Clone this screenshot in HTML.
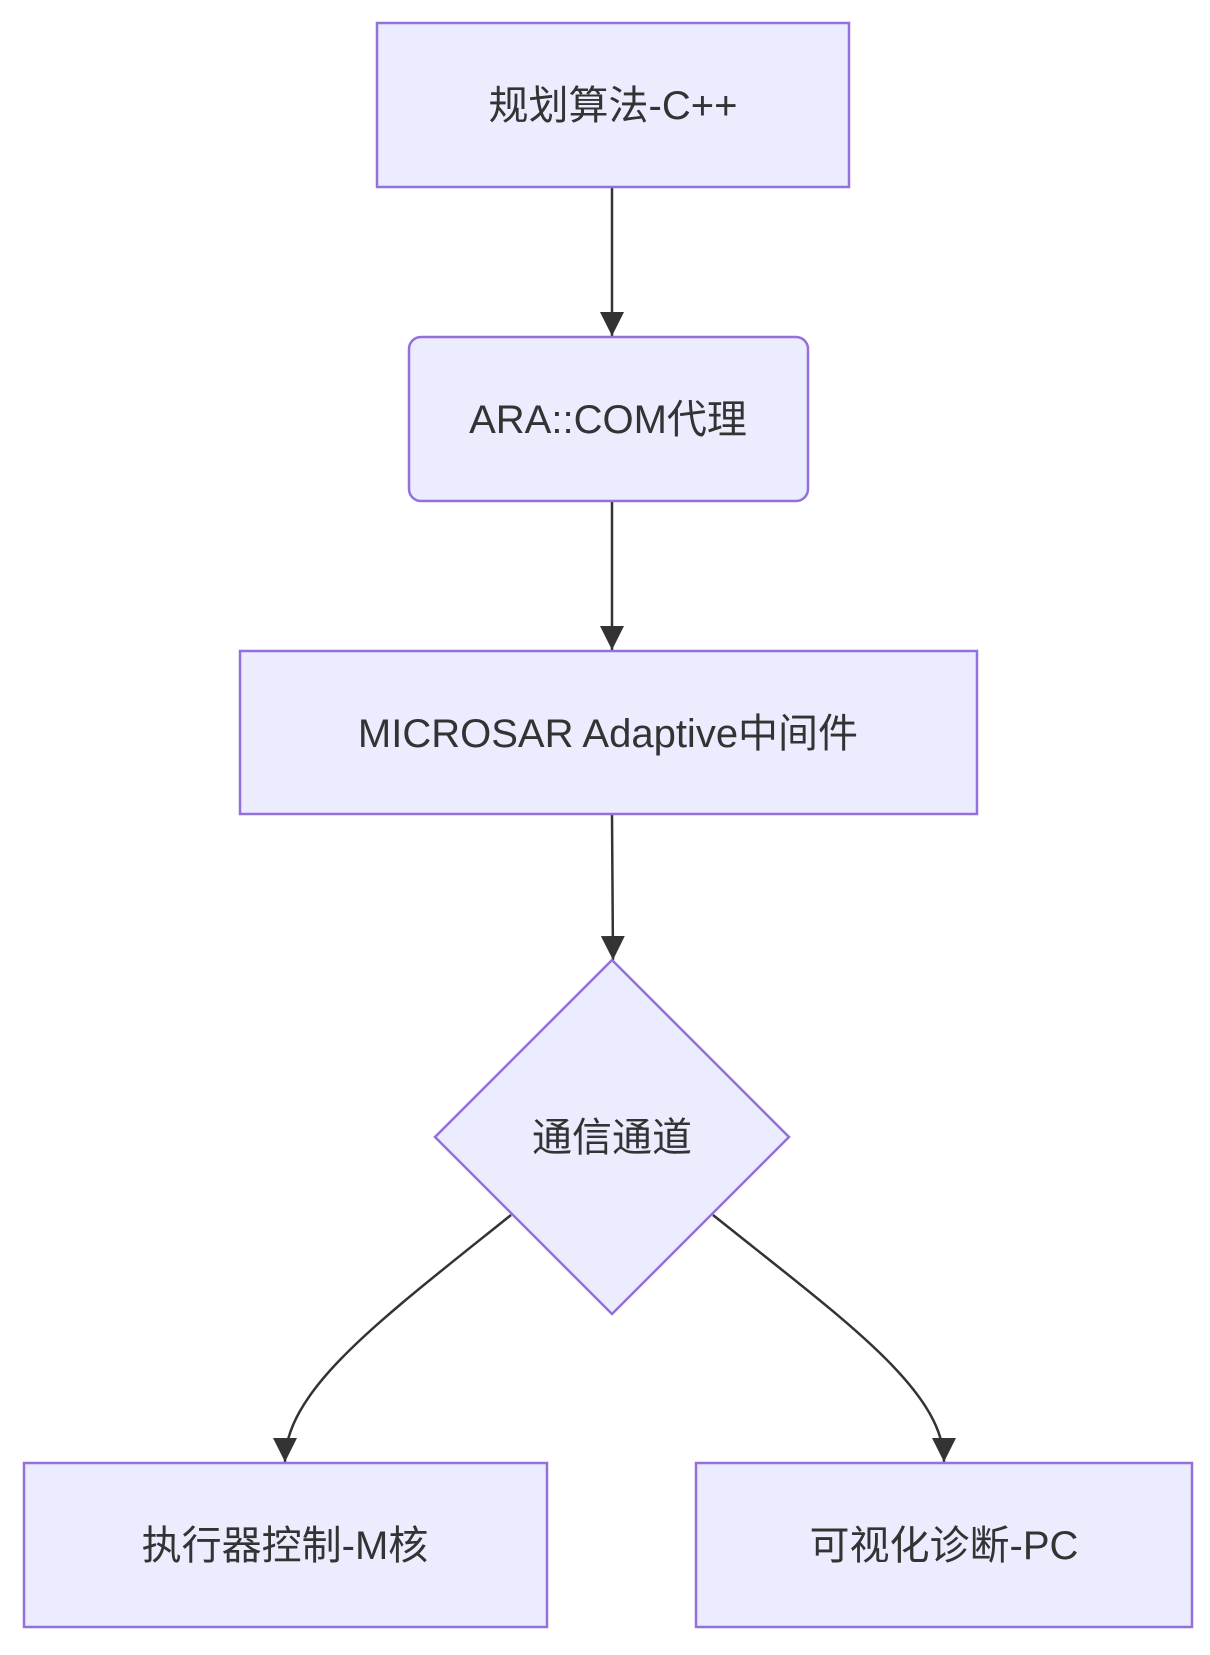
<!DOCTYPE html>
<html><head><meta charset="utf-8"><style>
html,body{margin:0;padding:0;background:#fff;}
svg text{font-family:"Liberation Sans","Noto Sans CJK SC",sans-serif;font-size:40px;fill:#333;}
</style></head><body>
<svg width="1210" height="1650" viewBox="0 0 1210 1650" xmlns="http://www.w3.org/2000/svg">
<defs><marker id="a" viewBox="0 0 12 12" refX="11" refY="6" markerWidth="12" markerHeight="12" markerUnits="userSpaceOnUse" orient="auto"><path d="M0,0 L12,6 L0,12 z" fill="#333"/></marker>
<marker id="b" viewBox="0 0 10 10" refX="10" refY="5" markerWidth="24" markerHeight="24" markerUnits="userSpaceOnUse" orient="auto"><path d="M0,0 L10,5 L0,10 z" fill="#333"/></marker></defs>
<g stroke="#333" stroke-width="2.5" fill="none">
<path d="M612,188 L612,336" marker-end="url(#b)"/>
<path d="M612,502 L612,650" marker-end="url(#b)"/>
<path d="M612,815 L613,960" marker-end="url(#b)"/>
<path d="M511,1215 C380,1320 285,1390 285,1462" marker-end="url(#b)"/>
<path d="M713,1215 C844,1320 944,1390 944,1462" marker-end="url(#b)"/>
</g>
<g fill="#ECECFF" stroke="#9370DB" stroke-width="2.5">
<rect x="377" y="23" width="472" height="164"/>
<rect x="409" y="337" width="399" height="164" rx="12"/>
<rect x="240" y="651" width="737" height="163"/>
<polygon points="612,960 789,1137 612,1314 435,1137"/>
<rect x="24" y="1463" width="523" height="164"/>
<rect x="696" y="1463" width="496" height="164"/>
</g>
<g text-anchor="middle">
<text x="613" y="119">规划算法-C++</text>
<text x="608" y="433">ARA::COM代理</text>
<text x="608" y="747">MICROSAR Adaptive中间件</text>
<text x="612" y="1151">通信通道</text>
<text x="285" y="1559">执行器控制-M核</text>
<text x="944" y="1559">可视化诊断-PC</text>
</g>
</svg>
</body></html>
